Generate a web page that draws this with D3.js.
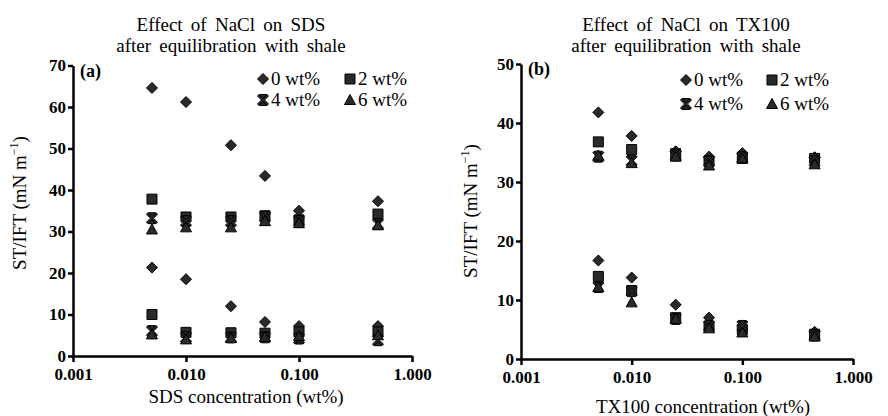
<!DOCTYPE html>
<html>
<head>
<meta charset="utf-8">
<script src="https://cdn.jsdelivr.net/npm/d3@7"></script>
<style>
  body { margin: 0; background: #fff; }
  svg { display: block; }
  text { font-family: "Liberation Serif", "Times New Roman", serif; fill: #000; }
</style>
</head>
<body>
<svg id="chart" width="888" height="416"></svg>
<script>
// NaCl levels and marker shapes
var levels = ["0 wt%", "2 wt%", "4 wt%", "6 wt%"];
var shapes = ["diamond", "square", "x", "triangle"];
var xTicks = [0.001, 0.01, 0.1, 1];

// (a) SDS
var sdsConc = [0.005, 0.01, 0.025, 0.05, 0.1, 0.5];
var sdsST0 = [64.6, 61.2, 50.8, 43.4, 35.0, 37.3];
var sdsST2 = [37.8, 33.5, 33.5, 33.8, 32.8, 34.2];
var sdsST4 = [33.2, 32.5, 32.5, 33.5, 32.5, 31.8];
var sdsST6 = [30.5, 31.0, 31.0, 32.5, 32.0, 31.5];
var sdsIFT0 = [21.3, 18.5, 12.0, 8.2, 7.2, 7.2];
var sdsIFT2 = [10.0, 5.7, 5.6, 5.5, 5.8, 5.8];
var sdsIFT4 = [6.0, 4.5, 4.5, 4.5, 4.2, 3.8];
var sdsIFT6 = [5.2, 4.0, 4.3, 4.6, 4.8, 5.0];

// (b) TX100
var txConc = [0.005, 0.01, 0.025, 0.05, 0.1, 0.45];
var txST0 = [41.8, 37.8, 35.2, 34.3, 34.9, 34.2];
var txST2 = [36.8, 35.5, 34.8, 33.5, 34.0, 34.0];
var txST4 = [34.3, 33.6, 34.5, 33.5, 34.2, 33.5];
var txST6 = [34.5, 33.2, 34.3, 32.8, 34.0, 33.0];
var txIFT0 = [16.7, 13.8, 9.2, 7.0, 5.6, 4.6];
var txIFT2 = [14.0, 11.6, 7.0, 5.5, 5.0, 4.2];
var txIFT4 = [12.2, 11.5, 6.8, 5.6, 5.6, 4.0];
var txIFT6 = [12.2, 9.6, 6.8, 5.2, 4.5, 3.8];

var svg = d3.select("#chart");

// draw one marker of the given shape centred at 0,0 inside g
function marker(g, shape) {
  var fill = "#2a2a2a", stroke = "#000";
  if (shape == "diamond") {
    g.append("path").attr("d", "M0,-5.5L5.5,0L0,5.5L-5.5,0Z");
  } else if (shape == "square") {
    g.append("path").attr("d", "M-5,-5H5V5H-5Z");
  } else if (shape == "triangle") {
    g.append("path").attr("d", "M0,-5.5L5.5,4.5L-5.5,4.5Z");
  } else {
    // bold X with hourglass
    g.append("path").attr("d", "M-3.5,-5.5L3.5,-5.5L0,0ZM-3.5,5.5L3.5,5.5L0,0Z");
    g.append("path")
      .attr("d", "M-5.5,-4L-4,-5.5L0,-1.5L4,-5.5L5.5,-4L1.5,0L5.5,4L4,5.5L0,1.5L-4,5.5L-5.5,4L-1.5,0Z");
  }
  g.selectAll("path").attr("fill", fill).attr("stroke", stroke).attr("stroke-width", 1);
}

function drawPanel(p) {
  var x = d3.scaleLog().domain([0.001, 1]).range(p.xRange);
  var y = d3.scaleLinear().domain([0, p.yMax]).range(p.yRange);

  var xAxis = svg.append("g")
    .attr("transform", `translate(0, ${p.yRange[0]})`)
    .call(d3.axisBottom(x).tickValues(xTicks).tickFormat(d3.format(".3f"))
      .tickSize(6).tickSizeOuter(0).tickPadding(6));
  var yAxis = svg.append("g")
    .attr("transform", `translate(${p.xRange[0]}, 0)`)
    .call(d3.axisLeft(y).ticks(p.yMax / 10).tickFormat(d3.format("d"))
      .tickSize(5).tickSizeOuter(0).tickPadding(2));

  [xAxis, yAxis].forEach(function (a) {
    a.select(".domain").attr("stroke", "#000").attr("stroke-width", 2.5);
    a.selectAll(".tick line").attr("stroke", "#000").attr("stroke-width", 2.5);
    a.selectAll(".tick text")
      .attr("font-weight", "bold")
      .attr("font-size", 17);
  });

  // titles
  p.title.forEach(function (t, i) {
    svg.append("text")
      .attr("x", p.titleX).attr("y", 31 + i * 21)
      .attr("text-anchor", "middle").attr("font-size", 19)
      .attr("word-spacing", 3.5)
      .text(t);
  });

  svg.append("text")
    .attr("x", p.xLabelX).attr("y", p.xLabelY)
    .attr("text-anchor", "middle").attr("font-size", 19)
    .text(p.xLabel);

  var yl = svg.append("text")
    .attr("transform", `translate(${p.yLabelX}, ${p.yLabelY}) rotate(-90)`)
    .attr("text-anchor", "middle").attr("font-size", 19);
  yl.append("tspan").text("ST/IFT (mN m");
  yl.append("tspan").attr("font-size", 12).attr("dy", -8).text("\u22121");
  yl.append("tspan").attr("dy", 8).text(")");

  svg.append("text")
    .attr("x", p.xRange[0] + 7).attr("y", p.yRange[1] + 11)
    .attr("font-size", 18).attr("font-weight", "bold")
    .text(p.letter);

  // points: ST and IFT for each NaCl level
  p.series.forEach(function (s) {
    svg.append("g").selectAll("g")
      .data(s.values)
      .enter()
      .append("g")
      .attr("transform", function (d, i) {
        return `translate(${x(p.conc[i])}, ${y(d)})`;
      })
      .each(function () { marker(d3.select(this), s.shape); });
  });

  // legend
  levels.forEach(function (lv, i) {
    var col = i % 2, row = Math.floor(i / 2);
    var lx = p.legendX[col], ly = p.legendY[row];
    var g = svg.append("g").attr("transform", `translate(${lx}, ${ly})`);
    marker(g, shapes[i]);
    svg.append("text")
      .attr("x", lx + 8).attr("y", ly + 6)
      .attr("font-size", 19)
      .text(lv);
  });
}

drawPanel({
  xRange: [73, 412], yRange: [356, 65.5], yMax: 70,
  conc: sdsConc,
  series: [
    { values: sdsST0, shape: "diamond" }, { values: sdsIFT0, shape: "diamond" },
    { values: sdsST2, shape: "square" }, { values: sdsIFT2, shape: "square" },
    { values: sdsST4, shape: "x" }, { values: sdsIFT4, shape: "x" },
    { values: sdsST6, shape: "triangle" }, { values: sdsIFT6, shape: "triangle" }
  ],
  title: ["Effect of NaCl on SDS", "after equilibration with shale"],
  titleX: 231,
  xLabel: "SDS concentration (wt%)", xLabelX: 246, xLabelY: 403,
  yLabelX: 26, yLabelY: 203,
  letter: "(a)",
  legendX: [263, 350], legendY: [79, 100]
});

drawPanel({
  xRange: [521, 853], yRange: [359, 64], yMax: 50,
  conc: txConc,
  series: [
    { values: txST0, shape: "diamond" }, { values: txIFT0, shape: "diamond" },
    { values: txST2, shape: "square" }, { values: txIFT2, shape: "square" },
    { values: txST4, shape: "x" }, { values: txIFT4, shape: "x" },
    { values: txST6, shape: "triangle" }, { values: txIFT6, shape: "triangle" }
  ],
  title: ["Effect of NaCl on TX100", "after equilibration with shale"],
  titleX: 686,
  xLabel: "TX100 concentration (wt%)", xLabelX: 703, xLabelY: 413,
  yLabelX: 477, yLabelY: 211,
  letter: "(b)",
  legendX: [686, 772], legendY: [80, 104]
});
</script>
</body>
</html>
